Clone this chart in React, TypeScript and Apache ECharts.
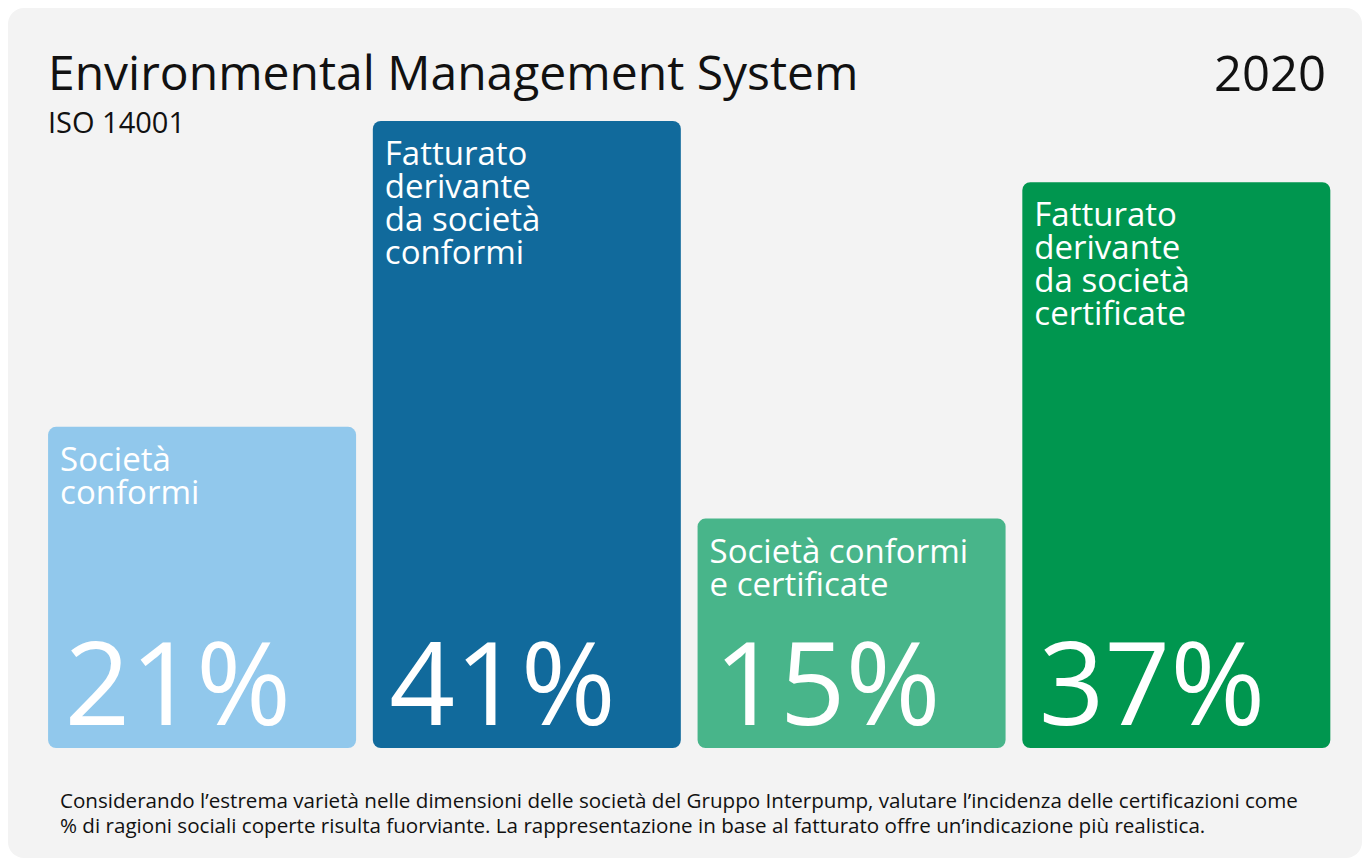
import React, { useEffect, useRef } from "react";
import * as echarts from "echarts";

const categories = [
  "Società conformi",
  "Fatturato derivante da società conformi",
  "Società conformi e certificate",
  "Fatturato derivante da società certificate",
];
const barLabels = [
  "Società\nconformi",
  "Fatturato\nderivante\nda società\nconformi",
  "Società conformi\ne certificate",
  "Fatturato\nderivante\nda società\ncertificate",
];
const values = [21, 41, 15, 37];
const barColors = ["#91c8ec", "#116a9c", "#48b58a", "#00964f"];
const titleText = "Environmental Management System";
const subtitleText = "ISO 14001";
const yearText = "2020";
const footerLines = [
  "Considerando l’estrema varietà nelle dimensioni delle società del Gruppo Interpump, valutare l’incidenza delle certificazioni come",
  "% di ragioni sociali coperte risulta fuorviante. La rappresentazione in base al fatturato offre un’indicazione più realistica.",
];

const FONT = "'Open Sans', 'Noto Sans', sans-serif";

export default function App() {
  const ref = useRef<HTMLDivElement>(null);
  useEffect(() => {
    document.body.style.margin = "0";
    const chart = echarts.init(ref.current!, null, { renderer: "svg" });
    chart.setOption({
      animation: false,
      grid: { left: 39.7, right: 31.3, top: 121, bottom: 113, containLabel: false },
      xAxis: {
        type: "category",
        data: categories,
        axisLine: { show: false },
        axisTick: { show: false },
        axisLabel: { show: false },
      },
      yAxis: {
        type: "value",
        min: 0,
        max: 41,
        show: false,
        splitLine: { show: false },
      },
      graphic: [
        {
          type: "rect",
          z: -10,
          silent: true,
          shape: { x: 8, y: 8, width: 1354, height: 850, r: 16 },
          style: { fill: "#f3f3f3" },
        },
        {
          type: "text",
          z: 100,
          x: 48,
          y: 71.5,
          style: {
            text: titleText,
            font: `400 48px ${FONT}`,
            fill: "#111111",
            verticalAlign: "middle",
          },
        },
        {
          type: "text",
          z: 100,
          x: 1326,
          y: 71.5,
          style: {
            text: yearText,
            font: `400 49px ${FONT}`,
            fill: "#111111",
            align: "right",
            verticalAlign: "middle",
          },
        },
        {
          type: "text",
          z: 100,
          x: 48,
          y: 121,
          style: {
            text: subtitleText,
            font: `400 29px ${FONT}`,
            fill: "#111111",
            verticalAlign: "middle",
          },
        },
        {
          type: "text",
          z: 100,
          x: 60,
          y: 800,
          style: {
            text: footerLines[0],
            font: `400 20.6px ${FONT}`,
            fill: "#111111",
            verticalAlign: "middle",
          },
        },
        {
          type: "text",
          z: 100,
          x: 60,
          y: 825,
          style: {
            text: footerLines[1],
            font: `400 20.6px ${FONT}`,
            fill: "#111111",
            verticalAlign: "middle",
          },
        },
      ],
      series: [
        {
          type: "bar",
          barWidth: 308,
          data: values.map((v, i) => ({
            value: v,
            itemStyle: { color: barColors[i], borderRadius: 8 },
            label: { formatter: barLabels[i] },
          })),
          label: {
            show: true,
            position: "insideTopLeft",
            distance: 12,
            padding: [3, 0, 0, 0],
            color: "#ffffff",
            fontFamily: FONT,
            fontSize: 33,
            lineHeight: 33,
          },
        },
        {
          type: "bar",
          barWidth: 308,
          barGap: "-100%",
          data: values.map((v) => ({ value: v, itemStyle: { color: "rgba(0,0,0,0)" } })),
          label: {
            show: true,
            position: "insideBottomLeft",
            distance: 10,
            offset: [6.5, 0],
            formatter: (p: any) => `${p.value}%`,
            color: "#ffffff",
            fontFamily: FONT,
            fontSize: 115,
            lineHeight: 115,
          },
        },
      ],
    });
    return () => chart.dispose();
  }, []);
  return <div ref={ref} style={{ width: 1370, height: 861 }} />;
}
